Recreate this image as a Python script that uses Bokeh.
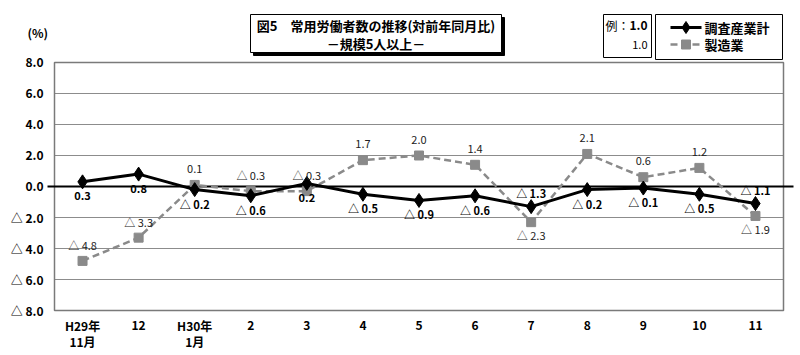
from bokeh.plotting import figure
from bokeh.models import ColumnDataSource
from bokeh.core.properties import value
from bokeh.embed import file_html
from bokeh.resources import INLINE

# ---- data ----
months = ["H29年\n11月", "12", "H30年\n1月", "2", "3", "4", "5", "6", "7", "8", "9", "10", "11"]
total = [0.3, 0.8, -0.2, -0.6, 0.2, -0.5, -0.9, -0.6, -1.3, -0.2, -0.1, -0.5, -1.1]
manuf = [-4.8, -3.3, 0.1, -0.3, -0.3, 1.7, 2.0, 1.4, -2.3, 2.1, 0.6, 1.2, -1.9]
y_ticks = [8, 6, 4, 2, 0, -2, -4, -6, -8]
total_label_side = ["below"] * 8 + ["above"] + ["below"] * 3 + ["above"]
manuf_label_side = ["above"] * 8 + ["below"] + ["above"] * 3 + ["below"]
series_names = ["調査産業計", "製造業"]

def fmt(v):
    return "△ %.1f" % abs(v) if v < 0 else "%.1f" % v

JP = "Noto Sans CJK JP"
NARROW = "Liberation Sans Narrow, Noto Sans CJK JP"
GRAY = "#8a8a8a"

xs = list(range(len(months)))
XMIN, XMAX = -0.5, len(months) - 0.5
YMIN, YMAX = min(y_ticks), max(y_ticks)

# frame covers the whole canvas; the chart box is drawn inside it
W, H = 800, 355
BOX_L, BOX_R, BOX_T, BOX_B = 54, 783, 62, 310      # chart box in canvas pixels
PX_X = (BOX_R - BOX_L) / (XMAX - XMIN)
PX_Y = (BOX_B - BOX_T) / (YMAX - YMIN)
x_lo = XMIN - BOX_L / PX_X
x_hi = XMAX + (W - BOX_R) / PX_X
y_lo = YMIN - (H - BOX_B) / PX_Y
y_hi = YMIN + BOX_B / PX_Y

def cx(px):   # canvas pixel -> data x (decorations only)
    return x_lo + px / PX_X

def cy(py):   # canvas pixel -> data y (decorations only)
    return y_hi - py / PX_Y

p = figure(width=W, height=H, output_backend="svg", toolbar_location=None,
           x_range=(x_lo, x_hi), y_range=(y_lo, y_hi),
           min_border_left=0, min_border_right=0, min_border_top=0, min_border_bottom=0)
p.background_fill_color = "white"
p.border_fill_color = "white"
p.outline_line_color = None
p.xaxis.visible = False
p.yaxis.visible = False
p.grid.visible = False

# grid lines and box
p.segment(x0=[XMIN] * len(y_ticks), x1=[XMAX] * len(y_ticks), y0=y_ticks, y1=y_ticks,
          line_color="#8c8c8c", line_width=1)
p.quad(left=[XMIN], right=[XMAX], bottom=[YMIN], top=[YMAX], fill_color=None,
       line_color="#7a7a7a", line_width=1.5)
p.segment(x0=[cx(47)], x1=[cx(793)], y0=[0], y1=[0], line_color="black", line_width=1.8)

# y tick labels
p.text(x=[XMIN] * len(y_ticks), y=y_ticks, text=[fmt(float(t)) for t in y_ticks],
       x_offset=-11, text_align="right", text_baseline="middle",
       text_font=value(JP), text_font_size="12px", text_font_style="bold", text_color="black")

# x tick labels (one glyph per text line)
line1 = [m.split("\n")[0] for m in months]
line2 = [m.split("\n")[1] if "\n" in m else "" for m in months]
for txt, off in ((line1, 15), (line2, 31)):
    p.text(x=xs, y=[YMIN] * len(xs), text=txt, y_offset=off, text_align="center",
           text_baseline="middle", text_font=value(JP), text_font_size="12px",
           text_font_style="bold", text_color="black")

# series
src_m = ColumnDataSource(dict(x=xs, y=manuf, t=[fmt(v) for v in manuf],
                              off=[-16 if s == "above" else 13 for s in manuf_label_side]))
src_t = ColumnDataSource(dict(x=xs, y=total, t=[fmt(v) for v in total],
                              off=[-14 if s == "above" else 14 for s in total_label_side]))

p.line("x", "y", source=src_m, line_color=GRAY, line_width=2.5, line_dash="7 4")
p.scatter("x", "y", source=src_m, marker="square", size=9, fill_color=GRAY, line_color=GRAY)
p.line("x", "y", source=src_t, line_color="black", line_width=3)
p.scatter("x", "y", source=src_t, marker="diamond", size=14, fill_color="black", line_color="black")

p.text("x", "y", text="t", source=src_m, y_offset="off", text_align="center", text_baseline="middle",
       text_font=value(NARROW), text_font_size="11px", text_color="#222222")
p.text("x", "y", text="t", source=src_t, y_offset="off", text_align="center", text_baseline="middle",
       text_font=value(NARROW), text_font_size="11px", text_font_style="bold", text_color="black")

def deco_text(px, py, s, align="left", font=JP, size="12px", style="normal"):
    p.text(x=[cx(px)], y=[cy(py)], text=[s], text_align=align, text_baseline="middle",
           text_font=value(font), text_font_size=size, text_font_style=style, text_color="black")

def deco_box(l, t, r, b, fill="white", line="black"):
    p.quad(left=[cx(l)], right=[cx(r)], top=[cy(t)], bottom=[cy(b)], fill_color=fill,
           line_color=line, line_width=1)

# (%) label
deco_text(27, 32, "(%)", style="bold")

# title box with shadow
deco_box(253, 17, 504, 55, fill="black")
deco_box(250, 14, 501, 52)
deco_text(375.5, 25, "図5\u3000常用労働者数の推移(対前年同月比)", align="center", size="13px", style="bold")
deco_text(375.5, 43, "－規模5人以上－", align="center", size="13px", style="bold")

# example box
deco_box(603, 14, 651, 57)
deco_text(629, 25, "例：", align="right")
deco_text(647, 25, "1.0", align="right", style="bold")
deco_text(647, 44, "1.0", align="right", font=NARROW, size="11px")

# legend (drawn by hand)
deco_box(655, 14, 782, 59)
p.line(x=[cx(670), cx(701)], y=[cy(27), cy(27)], line_color="black", line_width=3)
p.scatter(x=[cx(685.5)], y=[cy(27)], marker="diamond", size=12, fill_color="black", line_color="black")
p.line(x=[cx(670), cx(701)], y=[cy(44), cy(44)], line_color=GRAY, line_width=2.5, line_dash="7 4")
p.scatter(x=[cx(685.5)], y=[cy(44)], marker="square", size=9, fill_color=GRAY, line_color=GRAY)
deco_text(704, 27, series_names[0], size="13px", style="bold")
deco_text(704, 44, series_names[1], size="13px", style="bold")

open("out.html", "w").write(file_html(p, INLINE))
